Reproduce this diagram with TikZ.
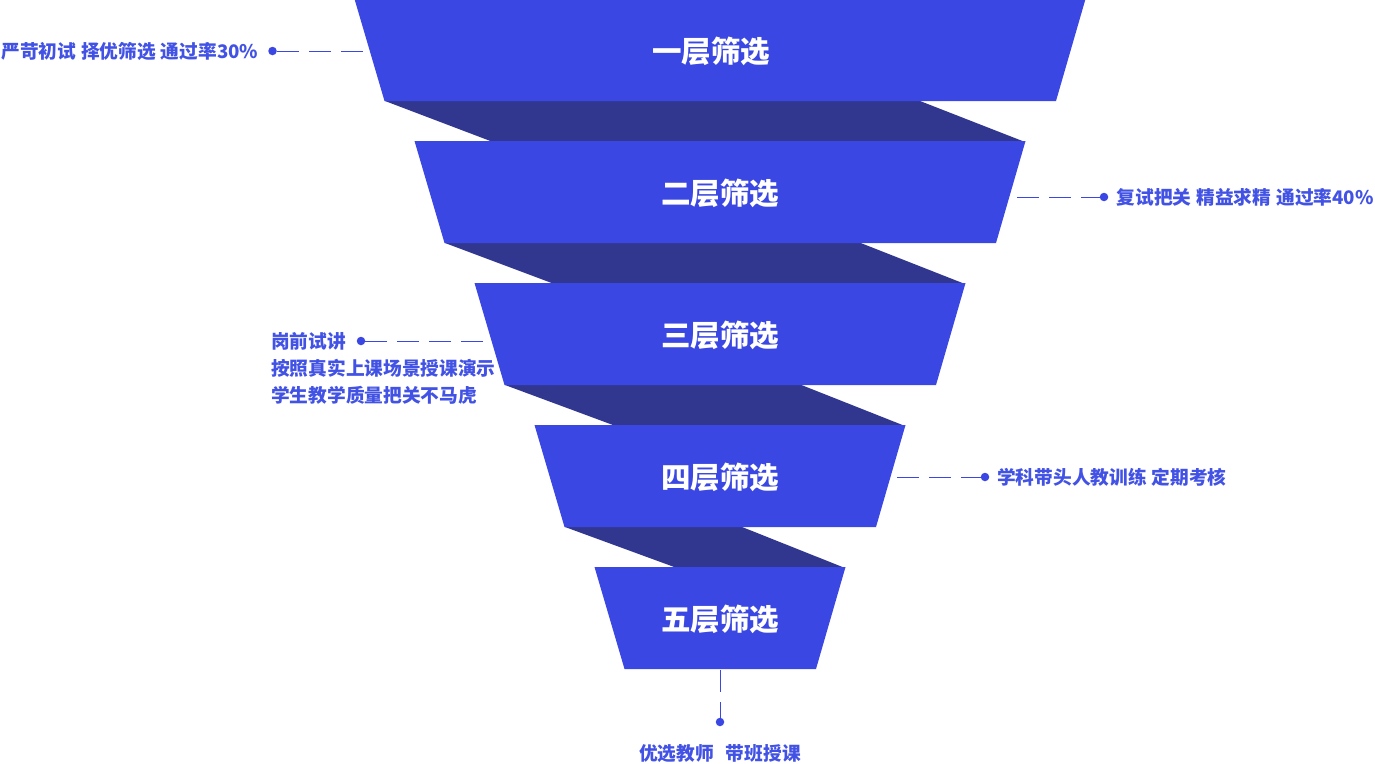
\documentclass[tikz,border=0pt]{standalone}
\usepackage{fontspec}
\setmainfont{Noto Sans CJK SC}
\definecolor{funnelblue}{RGB}{58,71,226}
\definecolor{funneldark}{RGB}{49,55,143}
\definecolor{labelblue}{RGB}{66,82,228}
\newcommand{\wgap}{\hspace{5pt}}
\begin{document}
\begin{tikzpicture}[x=1pt,y=-1pt,
  layer/.style={fill=funnelblue},
  band/.style={fill=funneldark},
  layertext/.style={text=white,inner sep=0pt,font=\fontsize{29.5}{31}\selectfont\bfseries},
  labeltext/.style={text=labelblue,inner sep=0pt,font=\fontsize{18.7}{27}\selectfont\bfseries},
  leader/.style={draw=funnelblue,line width=1pt,dash pattern=on 22pt off 10pt},
  dotmark/.style={circle,fill=funnelblue,inner sep=0pt,minimum size=8.5pt}]
\useasboundingbox (0,0) rectangle (1375,763);
% dark bands
\foreach \i in {0,1,2,3}{
  \fill[band] ({385+60*\i},{101+142*\i}) -- ({920-59.3*\i},{101+142*\i})
    -- ({1025-60*\i},{142+142*\i}) -- ({493+61.3*\i},{142+142*\i}) -- cycle;
}
% layers
\foreach \i in {0,1,2,3,4}{
  \fill[layer] ({354.5+60*\i},{-1+142*\i}) -- ({1085.5-60*\i},{-1+142*\i})
    -- ({1056-60*\i},{101+142*\i}) -- ({384.5+60*\i},{101+142*\i}) -- cycle;
}
\node[layertext] (l1) at (711,51) {一层筛选};
\node[layertext] (l2) at (720,193) {二层筛选};
\node[layertext] (l3) at (720,335) {三层筛选};
\node[layertext] (l4) at (720,477) {四层筛选};
\node[layertext] (l5) at (720,619) {五层筛选};
% leader lines
\coordinate (p1) at (272.5,51);   \coordinate (f1) at (363,51);
\coordinate (p2) at (1104,197);   \coordinate (f2) at (1017,197);
\coordinate (p3) at (361,341);    \coordinate (f3) at (483,341);
\coordinate (p4) at (985,477);    \coordinate (f4) at (897,477);
\coordinate (p5) at (720,722);    \coordinate (f5) at (720,670);
\draw[leader] (f1) -- (p1);
\draw[leader] (f2) -- (p2);
\draw[leader] (f3) -- (p3);
\draw[leader] (f4) -- (p4);
\draw[leader] (f5) -- (p5);
\node[dotmark] (d1) at (p1) {};
\node[dotmark] (d2) at (p2) {};
\node[dotmark] (d3) at (p3) {};
\node[dotmark] (d4) at (p4) {};
\node[dotmark] (d5) at (p5) {};
% labels
\node[labeltext,anchor=east] (t1) at (258.5,51) {严苛初试\wgap 择优筛选\wgap 通过率30\%};
\node[labeltext,anchor=west] (t2) at (1116.5,197) {复试把关\wgap 精益求精\wgap 通过率40\%};
\node[labeltext,anchor=west,align=left] (t3) at (271,368.5) {岗前试讲\\按照真实上课场景授课演示\\学生教学质量把关不马虎};
\node[labeltext,anchor=west] (t4) at (997,477) {学科带头人教训练\wgap 定期考核};
\node[labeltext] (t5) at (720,754) {优选教师\hspace{12pt}带班授课};
\end{tikzpicture}
\end{document}
